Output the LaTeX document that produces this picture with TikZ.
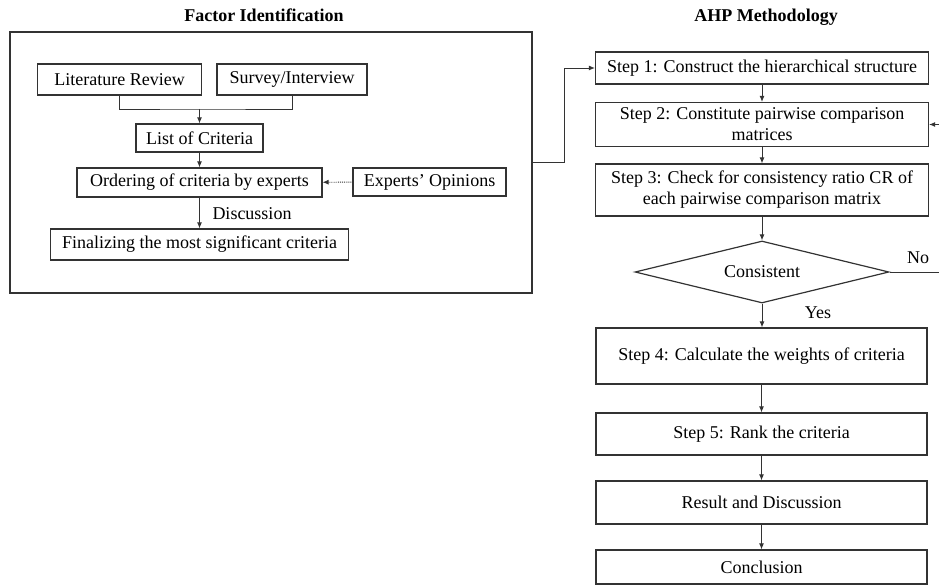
\documentclass[tikz,border=0pt]{standalone}
\usepackage{fontspec}
\setmainfont{Liberation Serif}
\usetikzlibrary{arrows.meta,shapes.geometric}
\definecolor{linec}{HTML}{333333}
\newcommand{\txt}{\fontsize{18}{21}\selectfont}

\begin{document}
\begin{tikzpicture}[x=1pt, y=-1pt, line width=1.2pt,
  box/.style={draw=linec, rectangle, inner sep=0pt, align=center, font=\txt},
  head/.style={font=\fontsize{18}{21}\selectfont\bfseries},
  lbl/.style={font=\txt, inner sep=0pt},
  arr/.style={draw=linec, line width=0.9pt, -{Latex[length=6pt,width=5pt]}}]
  \useasboundingbox (0,0) rectangle (939,585);
  \node[head] (titleL) at (264,15) {Factor Identification};
  \node[head] (titleR) at (766,17) {AHP Methodology};
  \node[box, minimum width=522, minimum height=261] (fibox) at (271,162.5) {};
  \node[box, minimum width=164, minimum height=31] (lit) at (119.5,79.5) {Literature Review};
  \node[box, minimum width=150, minimum height=31] (survey) at (292,79.5) {Survey/Interview};
  \coordinate (join) at (199.5,109);
  \node[box, minimum width=127, minimum height=28] (list) at (199.5,138) {List of Criteria};
  \node[box, minimum width=245, minimum height=29] (order) at (199.5,182.5) {Ordering of criteria by experts};
  \node[box, minimum width=153, minimum height=28] (experts) at (429.5,182) {Experts' Opinions};
  \node[box, minimum width=298, minimum height=31] (final) at (199.5,244.5) {Finalizing the most significant criteria};
  \node[lbl] (disc) at (252,214) {Discussion};
  \draw[draw=linec, line width=0.9pt] (lit.south) |- (join) -| (survey.south);
  \draw[arr] (join) -- (list.north);
  \draw[arr] (list) -- (order);
  \draw[arr, densely dotted] (experts) -- (order);
  \draw[arr] (order) -- (final);
  \node[box, minimum width=333, minimum height=32] (s1) at (762,68) {Step 1: Construct the hierarchical structure};
  \node[box, minimum width=333, minimum height=44] (s2) at (762,124.5) {Step 2: Constitute pairwise comparison\\matrices};
  \node[box, minimum width=333, minimum height=52] (s3) at (762,190) {Step 3: Check for consistency ratio CR of\\each pairwise comparison matrix};
  \node[draw=linec, diamond, aspect=4.1, inner sep=0pt, minimum width=254, minimum height=62, font=\txt] (cons) at (762,272) {Consistent};
  \node[box, minimum width=331, minimum height=56] (s4) at (761.5,356) {Step 4: Calculate the weights of criteria};
  \node[box, minimum width=331, minimum height=42] (s5) at (761.5,434) {Step 5: Rank the criteria};
  \node[box, minimum width=331, minimum height=43] (res) at (761.5,502.5) {Result and Discussion};
  \node[box, minimum width=331, minimum height=34] (concl) at (761.5,567) {Conclusion};
  \node[lbl] (yes) at (818,313) {Yes};
  \node[lbl] (no) at (918,258) {No};
  \coordinate (noEnd) at (939,272);
  \coordinate (backStart) at (939,124.5);
  \draw[arr] (fibox.east) -- ++(32,0) |- (s1.west);
  \draw[arr] (s1) -- (s2);
  \draw[arr] (s2) -- (s3);
  \draw[arr] (s3) -- (cons);
  \draw[draw=linec, line width=0.9pt] (cons.east) -- (noEnd);
  \draw[arr] (backStart) -- (s2.east);
  \draw[arr] (cons.south) -- (s4.north -| cons.south);
  \draw[arr] (s4) -- (s5);
  \draw[arr] (s5) -- (res);
  \draw[arr] (res) -- (concl);
\end{tikzpicture}
\end{document}
